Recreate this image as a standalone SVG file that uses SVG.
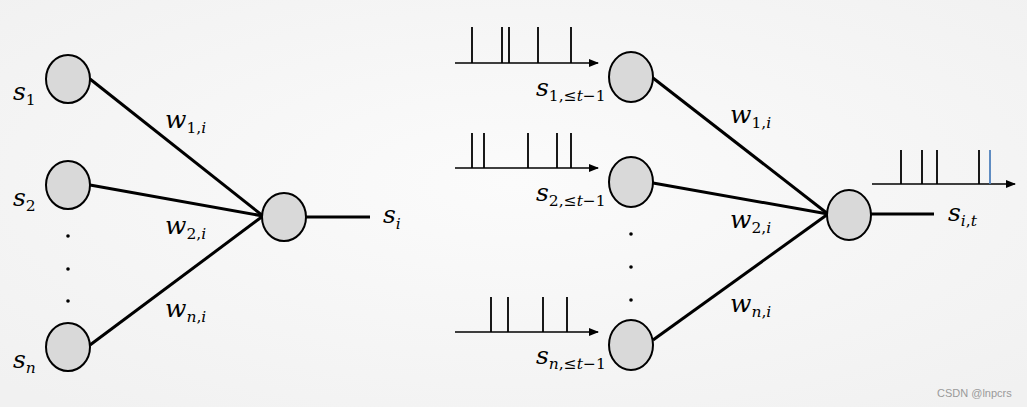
<svg xmlns="http://www.w3.org/2000/svg" width="1027" height="407" viewBox="0 0 1027 407">
<defs>
<radialGradient id="bg" cx="0.5" cy="0.45" r="0.7">
<stop offset="0" stop-color="#fbfbfb"/>
<stop offset="1" stop-color="#f1f1f1"/>
</radialGradient>
<marker id="arr" markerWidth="10" markerHeight="8" refX="9" refY="4" orient="auto" markerUnits="userSpaceOnUse">
<path d="M0,0 L10,4 L0,8 Z" fill="#000"/>
</marker>
</defs>
<style>
.n{fill:#d9d9d9;stroke:#000;stroke-width:2}
.c{stroke:#000;stroke-width:3;fill:none}
.ax{stroke:#000;stroke-width:1.6;fill:none}
.sp{stroke:#000;stroke-width:1.8}
.m{font-family:"DejaVu Serif",serif;font-style:italic;font-size:25px;fill:#000}
.sub{font-size:15.5px}
.up{font-style:normal}
.dot{fill:#000}
.wm{font-family:"Liberation Sans",Arial,sans-serif;font-size:11px;fill:#9a9a9a}
</style>
<rect width="1027" height="407" fill="url(#bg)"/>

<g id="connectors">
<line class="c" x1="90" y1="79" x2="263" y2="216"/>
<line class="c" x1="90" y1="185" x2="263" y2="216"/>
<line class="c" x1="90" y1="345" x2="263" y2="216"/>
<line class="c" x1="305" y1="217" x2="370" y2="217"/>
<line class="c" x1="653" y1="78" x2="828" y2="214"/>
<line class="c" x1="653" y1="183" x2="828" y2="214"/>
<line class="c" x1="653" y1="340" x2="828" y2="214"/>
<line class="c" x1="871" y1="214" x2="934" y2="214"/>
</g>

<g id="left-s1"><ellipse class="n" cx="68" cy="79" rx="22" ry="24"/>
<text class="m" x="13" y="100">s<tspan class="sub up" dy="5">1</tspan></text></g>
<g id="left-s2"><ellipse class="n" cx="68" cy="185" rx="22" ry="24"/>
<text class="m" x="13" y="206">s<tspan class="sub up" dy="5">2</tspan></text></g>
<g id="left-sn"><ellipse class="n" cx="68" cy="347" rx="22" ry="24"/>
<text class="m" x="13" y="368">s<tspan class="sub" dy="5">n</tspan></text></g>
<g id="left-dots"><circle class="dot" cx="68" cy="236" r="1.8"/><circle class="dot" cx="68" cy="269" r="1.8"/><circle class="dot" cx="68" cy="301" r="1.8"/></g>
<g id="left-out"><ellipse class="n" cx="284" cy="217" rx="22" ry="24"/>
<text class="m" x="383" y="223">s<tspan class="sub" dy="6">i</tspan></text></g>
<g id="left-weights">
<text class="m" x="165" y="128">w<tspan class="sub" dy="5"><tspan class="up">1,</tspan>i</tspan></text>
<text class="m" x="165" y="234">w<tspan class="sub" dy="5"><tspan class="up">2,</tspan>i</tspan></text>
<text class="m" x="165" y="317">w<tspan class="sub" dy="5">n<tspan class="up">,</tspan>i</tspan></text>
</g>

<g id="train1">
<line class="ax" x1="455" y1="63" x2="598" y2="63" marker-end="url(#arr)"/>
<line class="sp" x1="472" y1="27" x2="472" y2="63"/><line class="sp" x1="502" y1="27" x2="502" y2="63"/><line class="sp" x1="509" y1="27" x2="509" y2="63"/><line class="sp" x1="538" y1="27" x2="538" y2="63"/><line class="sp" x1="571" y1="27" x2="571" y2="63"/>
</g>
<g id="train2">
<line class="ax" x1="455" y1="168" x2="598" y2="168" marker-end="url(#arr)"/>
<line class="sp" x1="472" y1="133" x2="472" y2="168"/><line class="sp" x1="484" y1="133" x2="484" y2="168"/><line class="sp" x1="528" y1="133" x2="528" y2="168"/><line class="sp" x1="557" y1="133" x2="557" y2="168"/><line class="sp" x1="571" y1="133" x2="571" y2="168"/>
</g>
<g id="trainn">
<line class="ax" x1="455" y1="332" x2="598" y2="332" marker-end="url(#arr)"/>
<line class="sp" x1="491" y1="297" x2="491" y2="332"/><line class="sp" x1="508" y1="297" x2="508" y2="332"/><line class="sp" x1="543" y1="297" x2="543" y2="332"/><line class="sp" x1="567" y1="297" x2="567" y2="332"/>
</g>

<g id="right-s1"><ellipse class="n" cx="631" cy="77" rx="22" ry="25"/>
<text class="m" x="536" y="96">s<tspan class="sub" dy="5"><tspan class="up">1,≤</tspan>t<tspan class="up">−1</tspan></tspan></text></g>
<g id="right-s2"><ellipse class="n" cx="631" cy="182" rx="22" ry="25"/>
<text class="m" x="536" y="201">s<tspan class="sub" dy="5"><tspan class="up">2,≤</tspan>t<tspan class="up">−1</tspan></tspan></text></g>
<g id="right-sn"><ellipse class="n" cx="631" cy="345" rx="22" ry="25"/>
<text class="m" x="536" y="364">s<tspan class="sub" dy="5">n<tspan class="up">,≤</tspan>t<tspan class="up">−1</tspan></tspan></text></g>
<g id="right-dots"><circle class="dot" cx="631" cy="234" r="1.8"/><circle class="dot" cx="631" cy="267" r="1.8"/><circle class="dot" cx="631" cy="300" r="1.8"/></g>
<g id="right-out"><ellipse class="n" cx="849" cy="215" rx="22" ry="25"/>
<text class="m" x="948" y="221">s<tspan class="sub" dy="5">i<tspan class="up">,</tspan>t</tspan></text></g>
<g id="right-weights">
<text class="m" x="730" y="123">w<tspan class="sub" dy="5"><tspan class="up">1,</tspan>i</tspan></text>
<text class="m" x="730" y="228">w<tspan class="sub" dy="5"><tspan class="up">2,</tspan>i</tspan></text>
<text class="m" x="730" y="312">w<tspan class="sub" dy="5">n<tspan class="up">,</tspan>i</tspan></text>
</g>
<g id="train-out">
<line class="ax" x1="872" y1="184" x2="1015" y2="184" marker-end="url(#arr)"/>
<line class="sp" x1="901" y1="150" x2="901" y2="184"/><line class="sp" x1="922" y1="150" x2="922" y2="184"/><line class="sp" x1="937" y1="150" x2="937" y2="184"/><line class="sp" x1="979" y1="150" x2="979" y2="184"/>
<line x1="990" y1="150" x2="990" y2="184" stroke="#4f81bd" stroke-width="1.8"/>
</g>
<text class="wm" x="937" y="397">CSDN @lnpcrs</text>
</svg>
